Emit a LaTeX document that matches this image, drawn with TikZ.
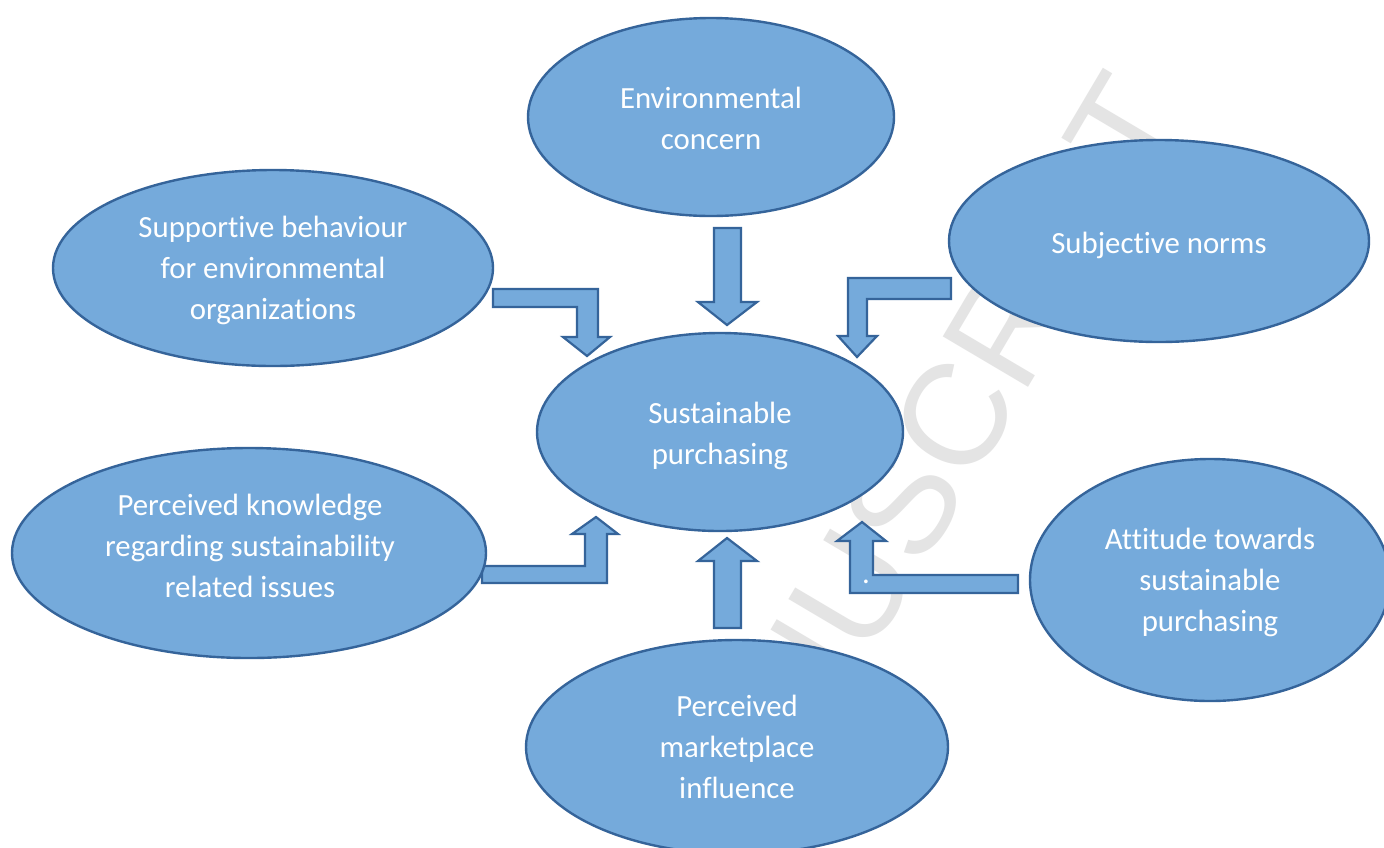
\documentclass[tikz,border=0pt]{standalone}
\usepackage{fontspec}
\setmainfont{Carlito}[Ligatures=NoCommon]
\newfontfamily\markfont{Liberation Sans}
\usetikzlibrary{shapes.geometric}
\definecolor{ovalfill}{HTML}{75AADB}
\definecolor{ovalline}{HTML}{35649A}
\definecolor{markgray}{HTML}{E4E4E4}
\tikzset{
	oval/.style={ellipse, draw=ovalline, fill=ovalfill, line width=1.2pt, inner sep=0pt},
	ovaltext/.style={inner sep=0pt, text=white, align=center, font=\fontsize{15.4}{20.5}\selectfont},
	blockarrow/.style={draw=ovalline, fill=ovalfill, line width=1.1pt, line join=miter}
}
\begin{document}
\begin{tikzpicture}[x=0.5pt, y=-0.5pt]
	\clip (0,0) rectangle (1384,847);
	\fill[white] (0,0) rectangle (1384,847);
	\node[rotate=59.4, inner sep=0pt, text=markgray, font=\markfont\fontsize{72}{72}\selectfont] (mark) at (905,500){MANUSCRIPT};

		\draw[blockarrow] (714,228) -- (741,228) -- (741,302) -- (757,302) -- (727,325) -- (698,302) -- (714,302) -- cycle;
		\draw[blockarrow] (714,628) -- (741,628) -- (741,561) -- (757,561) -- (727,538) -- (698,561) -- (714,561) -- cycle;
		\draw[blockarrow] (493,289) -- (598,289) -- (598,337) -- (610,337) -- (587,356) -- (563,337) -- (577,337) -- (577,307) -- (493,307) -- cycle;
		\draw[blockarrow] (951,278) -- (848,278) -- (848,336) -- (838,336) -- (857,357) -- (877,336) -- (867,336) -- (867,299) -- (951,299) -- cycle;
		\draw[blockarrow] (482,566) -- (585,566) -- (585,534) -- (572,534) -- (596,517) -- (618,534) -- (607,534) -- (607,583) -- (482,583) -- cycle;
		\draw[blockarrow] (1018,575) -- (873,575) -- (873,541) -- (886,541) -- (862,522) -- (837,541) -- (850,541) -- (850,593) -- (1018,593) -- cycle;
	\node[ovaltext] (dot) at (866,582){.};

	\node[oval, minimum width=183pt, minimum height=99pt] (env) at (711,117){};
	\node[oval, minimum width=220pt, minimum height=98pt] (supp) at (273,268){};
	\node[oval, minimum width=210pt, minimum height=101pt] (subj) at (1159,241){};
	\node[oval, minimum width=183pt, minimum height=99pt] (sust) at (720,432){};
	\node[oval, minimum width=237pt, minimum height=105pt] (know) at (249,553){};
	\node[oval, minimum width=180pt, minimum height=121pt] (att) at (1210,580){};
	\node[oval, minimum width=211pt, minimum height=107pt] (mkt) at (737,747){};

	\node[ovaltext] (envtext) at (711,118){Environmental\\concern};
	\node[ovaltext] (supptext) at (273,270){Supportive behaviour\\for environmental\\organizations};
	\node[ovaltext] (subjtext) at (1159,245){Subjective norms};
	\node[ovaltext] (susttext) at (720,436){Sustainable\\purchasing};
	\node[ovaltext] (knowtext) at (250,546){Perceived knowledge\\regarding sustainability\\related issues};
	\node[ovaltext] (atttext) at (1210,582){Attitude towards\\sustainable\\purchasing};
	\node[ovaltext] (mkttext) at (737,747){Perceived\\marketplace\\influence};
\end{tikzpicture}
\end{document}
